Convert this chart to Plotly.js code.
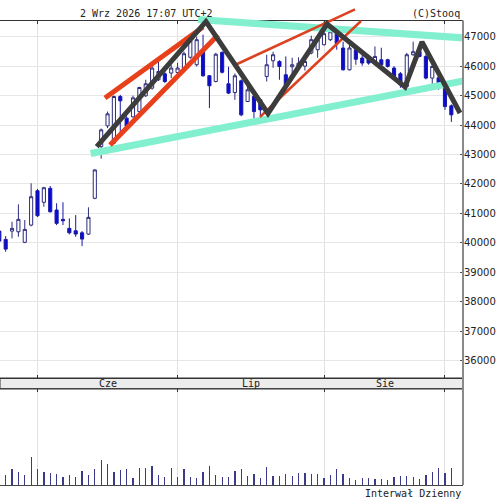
<!DOCTYPE html>
<html>
<head>
<meta charset="utf-8">
<script src="https://cdn.plot.ly/plotly-3.0.1.min.js"></script>
<style>html,body{margin:0;padding:0;background:#fff;}#chart{width:500px;height:502px;}</style>
</head>
<body>
<div id="chart"></div>
<script>
// ---- Data (trading-day index, first candle partly cut off at left) ----
const openP  = [40399,40117,40399,40375,40015,40603,41770,41376,41852,41114,40797,40491,40409,40341,40297,41512,
  43267,43972,43383,44969,44234,44278,44458,44993,45254,45537,45741,45765,45785,45935,46302,46047,46490,45673,
  45479,46466,45401,45105,45503,44799,44969,44856,45649,46183,46160,45707,45979,45990,46000,46445,46558,46728,
  46898,47119,46616,45877,46558,46275,46241,46105,46217,46217,45935,45741,45309,46388,46500,46330,45595,45605,
  45299,44652];
const highP  = [40450,40229,40716,41308,40773,42022,41830,41900,41930,41342,41376,40831,40943,40400,41206,42500,
  43880,44458,45000,45026,44300,45000,45300,45537,46047,46160,45935,46047,46115,46500,46922,47000,47068,45700,
  46450,46500,45979,45750,45550,45367,45000,44900,46388,46490,46200,46330,46285,46300,46280,47034,47068,47510,
  47408,47200,46830,46830,46600,46388,46388,46670,46626,46250,46000,45800,46450,46830,46728,46400,46050,45700,
  45350,44700];
const lowP   = [40020,39695,40151,40205,39990,40560,40880,41226,41030,40603,40603,40287,40205,39889,40270,41480,
  42860,43895,43350,43666,43900,44250,44400,44950,45200,45500,45425,45595,45750,45900,46250,45990,45640,44574,
  45450,45750,45050,44856,44300,44780,44234,44312,45479,45945,45537,45330,45673,45900,45850,46400,46285,46700,
  46850,46558,45850,45850,46047,46013,46050,46047,46013,45950,45537,45265,45250,46350,46300,45550,45197,45197,
  44516,44108];
const closeP = [40059,39787,40491,40797,40457,41566,40920,41872,41056,40661,40750,40341,40297,40127,40865,42475,
  43836,44380,44969,44822,43955,44924,45275,45401,45935,45819,45479,45935,45935,46422,46864,46898,45673,45333,
  46405,45792,45084,45673,44346,45197,44458,44516,46047,46388,45990,45367,46047,46100,46160,46898,46898,47102,
  47170,46762,45877,46616,46234,46105,46105,46330,46047,45990,45649,45367,46388,46490,46330,45595,45990,45435,
  44628,44346];
const volume = [9,10,15.7,13.3,10,28.3,15.7,13.3,12.3,11,7.7,10,7.7,14,10,15.7,24.7,21.3,13.3,15,15.7,7.3,17.3,
  17.3,19,10,8.3,17.3,8.3,15.7,8.3,7.3,13,19.3,10,8.3,8.3,14,15.7,9,11,7.3,18.3,9,9,11,9,11.7,12.3,11,11,6.7,10,
  15.7,11,7.3,5,6.7,6.7,6,6,5,8.3,9,9,7.7,5.7,10,13.3,17.3,12.3,17.3];
const dayIndex = Array.from({length: openP.length}, (_, k) => k - 1);

// month boundaries (trading-day index of first session) and labels
const monthStarts = [5, 27, 50, 69];
const monthLabels = ['Cze', 'Lip', 'Sie'];
const priceTicks = [36000,37000,38000,39000,40000,41000,42000,43000,44000,45000,46000,47000];

// hand-drawn analysis lines (trading-day index, price)
const zigzagX = [14.30, 31.46, 41.20, 50.47, 62.72, 65.39, 71.36];
const zigzagY = [43265, 47516, 44392, 47431, 45292, 46820, 44409];
const redUpperX = [15.60, 30.99], redUpperY = [44918, 47329];
const redLowerX = [16.39, 33.35], redLowerY = [43322, 47058];
const redThin1X = [36.02, 54.87], redThin1Y = [46039, 47930];
const redThin2X = [39.94, 55.81], redThin2Y = [44273, 47533];
const cyanTopX = [30.21, 72.5], cyanTopY = [47584, 46950];
const cyanBotX = [13.35, 72.5], cyanBotY = [43034, 45522];

// ---- Layout constants ----
const X_RANGE = [-0.89, 71.83];
const Y_RANGE = [35410, 47550];
const PLOT_H = 485;
const PRICE_DOM = [(PLOT_H - 378) / PLOT_H, (PLOT_H - 20.5) / PLOT_H];
const VOL_DOM = [0, (PLOT_H - 389) / PLOT_H];
const OVER_DOM = [PRICE_DOM[0], 1];
const OVER_RANGE = [Y_RANGE[0], Y_RANGE[0] + (Y_RANGE[1] - Y_RANGE[0]) * (OVER_DOM[1] - OVER_DOM[0]) / (PRICE_DOM[1] - PRICE_DOM[0])];

const mono = 'DejaVu Sans Mono, monospace';

const traces = [
  {
    type: 'candlestick', x: dayIndex, open: openP, high: highP, low: lowP, close: closeP,
    xaxis: 'x', yaxis: 'y', whiskerwidth: 0,
    increasing: {line: {color: '#2c2c7c', width: 1}, fillcolor: '#ffffff'},
    decreasing: {line: {color: '#1818a8', width: 1}, fillcolor: '#0a0ad6'},
    hoverinfo: 'skip', showlegend: false
  },
  {
    type: 'bar', x: dayIndex, y: volume, xaxis: 'x2', yaxis: 'y2', width: 0.2,
    marker: {color: '#3a3a88', line: {width: 0}}, hoverinfo: 'skip', showlegend: false
  }
];

function addLine(xs, ys, color, width) {
  traces.push({type: 'scatter', mode: 'lines', x: xs, y: ys, xaxis: 'x3', yaxis: 'y3',
    line: {color: color, width: width}, hoverinfo: 'skip', showlegend: false});
}
addLine(cyanTopX, cyanTopY, '#82f0cf', 7);
addLine(cyanBotX, cyanBotY, '#82f0cf', 7);
addLine(redUpperX, redUpperY, '#e8401a', 5);
addLine(redLowerX, redLowerY, '#e8401a', 5);
addLine(redThin1X, redThin1Y, '#dc4220', 2.5);
addLine(redThin2X, redThin2Y, '#dc4220', 2.5);
addLine(zigzagX, zigzagY, '#3c3c3c', 5);

const monthMid = monthLabels.map((m, k) => (monthStarts[k] + monthStarts[k + 1]) / 2);

const annotations = monthLabels.map((m, k) => ({
  text: m, x: monthMid[k], xref: 'x', y: (PRICE_DOM[0] + VOL_DOM[1]) / 2, yref: 'paper',
  xanchor: 'center', yanchor: 'middle', showarrow: false, font: {family: mono, size: 10, color: '#222'}
}));
annotations.push(
  {text: '2 Wrz 2026 17:07 UTC+2', x: 146 / 463, xref: 'paper', y: (PLOT_H - 13) / PLOT_H, yref: 'paper',
   xanchor: 'center', yanchor: 'middle', showarrow: false, font: {family: mono, size: 10, color: '#222'}},
  {text: '(C)Stooq', x: 462 / 463, xref: 'paper', y: (PLOT_H - 13) / PLOT_H, yref: 'paper',
   xanchor: 'right', yanchor: 'middle', showarrow: false, font: {family: mono, size: 10, color: '#222'}},
  {text: 'Interwał Dzienny', x: 1, xref: 'paper', y: -8 / PLOT_H, yref: 'paper',
   xanchor: 'right', yanchor: 'middle', showarrow: false, font: {family: mono, size: 10, color: '#222'}}
);

const layout = {
  width: 500, height: 502,
  margin: {l: 0, r: 37, t: 0, b: 17, pad: 0},
  paper_bgcolor: '#ffffff', plot_bgcolor: 'rgba(0,0,0,0)',
  showlegend: false, dragmode: false,
  xaxis: {
    domain: [0, 1], anchor: 'y', range: X_RANGE, rangeslider: {visible: false},
    tickvals: monthStarts, showticklabels: false, ticks: 'inside', ticklen: 3, tickcolor: '#333',
    showgrid: true, gridcolor: '#e2e2e2', gridwidth: 1,
    showline: true, linecolor: '#333', linewidth: 1, mirror: 'ticks', zeroline: false, automargin: false
  },
  yaxis: {
    domain: PRICE_DOM, anchor: 'x', range: Y_RANGE, side: 'right',
    tickvals: priceTicks, ticktext: priceTicks.map(String), ticks: 'inside', ticklen: 3, tickcolor: '#555',
    tickfont: {family: 'DejaVu Sans, sans-serif', size: 10, color: '#222'},
    showgrid: true, gridcolor: '#e6e6e6', gridwidth: 1, showline: false, zeroline: false, automargin: false
  },
  xaxis2: {
    domain: [0, 1], anchor: 'y2', range: X_RANGE, side: 'top',
    tickvals: monthStarts, showticklabels: false, ticks: 'inside', ticklen: 3, tickcolor: '#333',
    showgrid: true, gridcolor: '#e2e2e2', gridwidth: 1,
    showline: true, linecolor: '#444', linewidth: 1, mirror: true, zeroline: false, automargin: false
  },
  yaxis2: {
    domain: VOL_DOM, anchor: 'x2', range: [0, 96], side: 'right',
    showticklabels: false, ticks: '', showgrid: false, showline: false, zeroline: false, automargin: false
  },
  xaxis3: {domain: [0, 1], anchor: 'y3', range: X_RANGE, visible: false, showgrid: false, zeroline: false},
  yaxis3: {domain: OVER_DOM, anchor: 'x3', range: OVER_RANGE, visible: false, showgrid: false, zeroline: false},
  shapes: [
    {type: 'rect', xref: 'paper', yref: 'paper', x0: 0, x1: 1, y0: VOL_DOM[1], y1: PRICE_DOM[0],
     fillcolor: '#ececec', line: {color: '#333', width: 1}, layer: 'below'},
    {type: 'line', xref: 'paper', yref: 'paper', x0: 1, x1: 1, y0: 0, y1: PRICE_DOM[1],
     line: {color: '#8a8a8a', width: 2}}
  ],
  annotations: annotations,
  bargap: 0
};

Plotly.newPlot('chart', traces, layout, {displayModeBar: false, staticPlot: true});
</script>
</body>
</html>
